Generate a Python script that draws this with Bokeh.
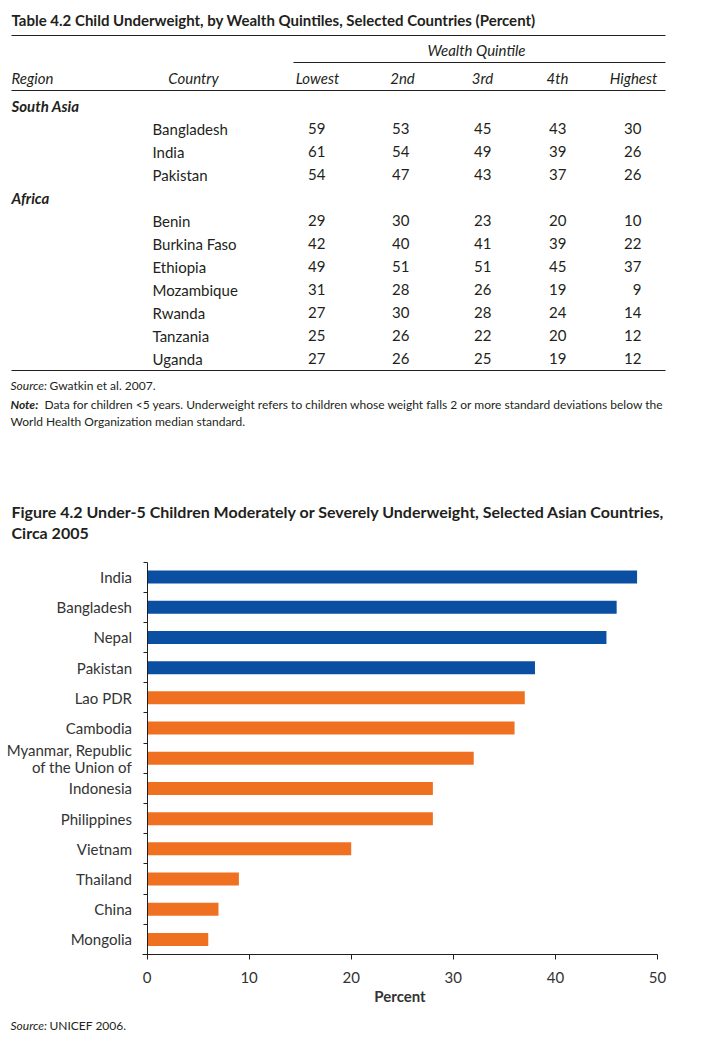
from bokeh.plotting import figure
from bokeh.models import Range1d, FixedTicker, LinearAxis
from bokeh.core.properties import value
from bokeh.embed import file_html
from bokeh.resources import INLINE

# ---------------- data ----------------
table_title = "Table 4.2  Child Underweight, by Wealth Quintiles, Selected Countries (Percent)"
quintile_group = "Wealth Quintile"
quintile_labels = ["Lowest", "2nd", "3rd", "4th", "Highest"]
region_names = ["South Asia", "Africa"]
south_asia_countries = ["Bangladesh", "India", "Pakistan"]
africa_countries = ["Benin", "Burkina Faso", "Ethiopia", "Mozambique", "Rwanda", "Tanzania", "Uganda"]
q_lowest = [59, 61, 54, 29, 42, 49, 31, 27, 25, 27]
q_2nd = [53, 54, 47, 30, 40, 51, 28, 30, 26, 26]
q_3rd = [45, 49, 43, 23, 41, 51, 26, 28, 22, 25]
q_4th = [43, 39, 37, 20, 39, 45, 19, 24, 20, 19]
q_highest = [30, 26, 26, 10, 22, 37, 9, 14, 12, 12]
table_source = ["Source:", "Gwatkin et al. 2007."]
table_note = ["Note:",
              "Data for children <5 years. Underweight refers to children whose weight falls 2 or more standard deviations below the",
              "World Health Organization median standard."]

fig_title = ["Figure 4.2  Under-5 Children Moderately or Severely Underweight, Selected Asian Countries,",
             "Circa 2005"]
chart_countries = ["India", "Bangladesh", "Nepal", "Pakistan", "Lao PDR", "Cambodia",
                   "Myanmar, Republic\nof the Union of", "Indonesia", "Philippines", "Vietnam",
                   "Thailand", "China", "Mongolia"]
chart_values = [48, 46, 45, 38, 37, 36, 32, 28, 28, 20, 9, 7, 6]
chart_groups = ["South Asia"] * 4 + ["East Asia and Pacific"] * 9
x_ticks = [0, 10, 20, 30, 40, 50]
x_label = "Percent"
chart_source = ["Source:", "UNICEF 2006."]

# ---------------- styles / layout ----------------
FONT = "Lato"
TXT = "#231f20"
LBL = "#333333"
BLUE = "#0a4fa1"
ORANGE = "#f07022"
W, H = 693, 1034
SMALL = 12

# chart frame in page pixels
FX0, FX1 = 146.5, 657.0      # x of value 0 and value 50
FY0, FY1 = 561.5, 954.0      # top of first category, bottom of last
XMIN, XMAX = 0, 50
n = len(chart_countries)
ppx = (FX1 - FX0) / (XMAX - XMIN)
ppy = (FY1 - FY0) / n

p = figure(width=W, height=H, x_range=Range1d(0, W), y_range=Range1d(H, 0),
           x_axis_type=None, y_axis_type=None,
           output_backend="svg", toolbar_location=None, min_border=0)
p.grid.visible = False
p.outline_line_color = None

p.extra_x_ranges = {"pct": Range1d(XMIN - FX0 / ppx, XMAX + (W - FX1) / ppx)}
p.extra_y_ranges = {"cat": Range1d(n - 0.5 + (H - FY1) / ppy, -0.5 - FY0 / ppy)}


def put(x, y, s, size=15, style="normal", align="left", color=TXT):
    p.text(x=[x], y=[y], text=[s], text_font=value(FONT),
           text_font_size=f"{size}px", text_font_style=style, text_align=align,
           text_baseline="middle", text_color=color)


# ---------------- table ----------------
put(11, 19, table_title, 15, "bold")
p.segment(x0=[11, 293, 11, 11], x1=[665] * 4, y0=[35, 62, 90, 370], y1=[35, 62, 90, 370],
          line_color=TXT, line_width=1)
put(476, 49, quintile_group, 15, "italic", "center")
put(11, 77, "Region", 15, "italic")
put(193, 77, "Country", 15, "italic", "center")
hdr_x = [317, 402, 482, 557, 633]
for hx, lab in zip(hdr_x, quintile_labels):
    put(hx, 77, lab, 15, "italic", "center")

cols = [q_lowest, q_2nd, q_3rd, q_4th, q_highest]
right_x = [325, 409, 491, 566, 641]
y = 105
row = 0
for reg, countries in zip(region_names, [south_asia_countries, africa_countries]):
    put(11, y, reg, 15, "bold italic")
    y += 23
    for c in countries:
        put(152, y, c, 15)
        for rx, col in zip(right_x, cols):
            put(rx, y, str(col[row]), 15, "normal", "right")
        row += 1
        y += 23

put(10, 385, table_source[0], SMALL, "italic")
put(49, 385, table_source[1], SMALL)
put(10, 404, table_note[0], SMALL, "bold italic")
put(44, 404, table_note[1], SMALL)
put(10, 421, table_note[2], SMALL)

# ---------------- chart ----------------
put(11, 511, fig_title[0], 16, "bold")
put(11, 532, fig_title[1], 16, "bold")

idx = list(range(n))
colors = [BLUE if g == "South Asia" else ORANGE for g in chart_groups]
p.hbar(y=idx, right=chart_values, left=0, height=0.43, fill_color=colors, line_color=None,
       x_range_name="pct", y_range_name="cat")

xa = LinearAxis(x_range_name="pct", y_range_name="cat", fixed_location=n - 0.5,
                bounds=(XMIN - 0.45, XMAX))
xa.ticker = FixedTicker(ticks=x_ticks)
xa.minor_tick_line_color = None
xa.major_tick_in = 0
xa.major_tick_out = 5
xa.major_label_standoff = 12
xa.major_label_text_font = FONT
xa.major_label_text_font_size = "15px"
xa.major_label_text_color = LBL
xa.axis_label = x_label
xa.axis_label_text_font = FONT
xa.axis_label_text_font_size = "15px"
xa.axis_label_text_font_style = "bold"
xa.axis_label_text_color = LBL
xa.axis_label_standoff = 1
xa.axis_line_color = TXT
xa.major_tick_line_color = TXT
p.add_layout(xa, "below")

ya = LinearAxis(x_range_name="pct", y_range_name="cat", fixed_location=XMIN,
                bounds=(-0.5, n - 0.5))
ya.ticker = FixedTicker(ticks=idx, minor_ticks=[i - 0.5 for i in range(n + 1)])
ya.major_label_overrides = {i: c for i, c in zip(idx, chart_countries)}
ya.major_tick_line_color = None
ya.major_tick_in = 0
ya.major_tick_out = 0
ya.minor_tick_in = 0
ya.minor_tick_out = 4
ya.minor_tick_line_color = TXT
ya.major_label_standoff = 11
ya.major_label_text_font = FONT
ya.major_label_text_font_size = "15px"
ya.major_label_text_color = LBL
ya.major_label_text_line_height = 0.95
ya.axis_line_color = TXT
p.add_layout(ya, "left")

put(10, 1025, chart_source[0], SMALL, "italic")
put(49, 1025, chart_source[1], SMALL)

open("out.html", "w").write(file_html(p, INLINE))
